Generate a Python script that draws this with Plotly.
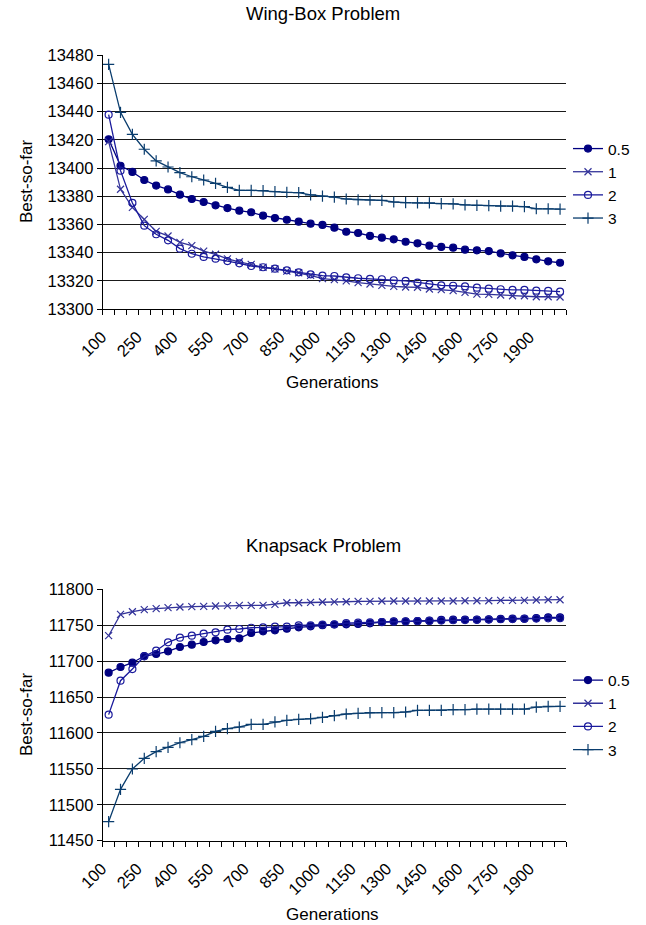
import plotly.graph_objects as go

# Generations (category axis, one point every 50 generations)
generations = [100, 150, 200, 250, 300, 350, 400, 450, 500, 550, 600, 650, 700,
               750, 800, 850, 900, 950, 1000, 1050, 1100, 1150, 1200, 1250, 1300,
               1350, 1400, 1450, 1500, 1550, 1600, 1650, 1700, 1750, 1800, 1850,
               1900, 1950, 2000]
tick_labels = [100, 250, 400, 550, 700, 850, 1000, 1150, 1300, 1450, 1600, 1750, 1900]
series_names = ["0.5", "1", "2", "3"]

# Wing-Box problem, best-so-far per generation
wing_05 = [13420.4, 13401.6, 13397.2, 13391.5, 13387.5, 13384.8, 13381.1, 13378.0,
           13375.9, 13373.5, 13371.6, 13369.7, 13368.6, 13366.2, 13364.5, 13363.3,
           13361.9, 13360.5, 13359.6, 13357.7, 13354.8, 13353.9, 13351.8, 13350.6,
           13349.4, 13347.7, 13346.6, 13344.9, 13344.0, 13343.5, 13342.1, 13341.6,
           13341.1, 13339.5, 13338.1, 13336.9, 13335.2, 13333.8, 13332.8]
wing_1 = [13418.7, 13384.9, 13372.1, 13363.6, 13355.0, 13351.8, 13347.3, 13344.9,
          13341.1, 13338.8, 13335.5, 13333.5, 13331.7, 13329.6, 13328.4, 13326.9,
          13325.7, 13323.9, 13321.5, 13320.8, 13319.9, 13318.7, 13317.7, 13316.8,
          13316.1, 13315.6, 13315.4, 13314.2, 13313.7, 13313.0, 13311.8, 13310.6,
          13310.4, 13309.9, 13309.4, 13309.4, 13308.7, 13308.7, 13308.5]
wing_2 = [13437.8, 13398.1, 13375.2, 13359.1, 13353.0, 13348.7, 13342.8, 13339.2,
          13336.9, 13335.7, 13334.0, 13332.4, 13330.5, 13329.6, 13328.6, 13327.4,
          13326.0, 13324.6, 13323.6, 13323.4, 13322.5, 13321.8, 13321.3, 13321.1,
          13320.4, 13319.9, 13318.7, 13317.5, 13316.8, 13316.5, 13316.1, 13315.1,
          13314.4, 13314.0, 13313.5, 13313.5, 13313.0, 13312.8, 13312.3]
wing_3 = [13473.5, 13439.5, 13423.9, 13413.3, 13405.0, 13400.7, 13396.7, 13393.8,
          13391.5, 13389.1, 13386.3, 13384.2, 13384.2, 13383.9, 13383.2, 13382.7,
          13382.5, 13380.9, 13380.1, 13379.4, 13378.0, 13377.5, 13377.3, 13377.1,
          13375.9, 13375.4, 13375.2, 13375.2, 13374.7, 13374.5, 13373.8, 13373.5,
          13373.3, 13373.0, 13373.0, 13372.6, 13371.1, 13371.1, 13370.9]

# Knapsack problem, best-so-far per generation
knap_05 = [11683.9, 11691.8, 11697.8, 11707.1, 11709.9, 11713.7, 11719.7, 11722.9,
           11726.6, 11729.0, 11730.8, 11731.8, 11739.2, 11741.5, 11742.9, 11745.1,
           11747.1, 11748.5, 11750.1, 11751.0, 11751.3, 11751.7, 11752.6, 11754.5,
           11755.4, 11755.4, 11755.9, 11756.3, 11757.3, 11757.7, 11757.7, 11757.7,
           11758.2, 11758.7, 11759.1, 11759.1, 11760.0, 11761.0, 11761.0]
knap_1 = [11735.4, 11765.2, 11768.8, 11771.6, 11773.0, 11774.4, 11775.3, 11775.8,
          11776.3, 11776.7, 11777.2, 11777.7, 11777.7, 11777.7, 11779.1, 11781.3,
          11781.3, 11781.9, 11782.3, 11782.5, 11782.7, 11783.2, 11783.2, 11783.7,
          11783.7, 11783.7, 11783.7, 11783.7, 11783.7, 11783.7, 11784.1, 11784.1,
          11784.1, 11784.6, 11784.6, 11784.6, 11785.1, 11785.5, 11785.5]
knap_2 = [11625.5, 11672.8, 11689.0, 11706.7, 11714.5, 11726.2, 11732.6, 11735.4,
          11738.2, 11740.1, 11743.8, 11744.7, 11746.5, 11747.1, 11747.9, 11747.9,
          11749.9, 11749.9, 11750.7, 11751.3, 11753.0, 11753.5, 11754.0, 11754.3,
          11754.8, 11755.2, 11755.6, 11756.0, 11756.5, 11756.9, 11757.2, 11757.5,
          11757.9, 11758.3, 11758.6, 11758.9, 11759.3, 11759.6, 11759.8]
knap_3 = [11476.5, 11521.5, 11549.8, 11564.7, 11573.9, 11580.0, 11586.4, 11590.6,
          11595.3, 11602.3, 11605.9, 11608.3, 11612.0, 11612.0, 11615.3, 11617.6,
          11619.0, 11619.8, 11621.8, 11624.0, 11626.4, 11627.4, 11628.2, 11628.2,
          11628.2, 11629.2, 11631.5, 11631.5, 11631.5, 11632.4, 11632.4, 11633.3,
          11633.3, 11633.3, 11633.3, 11633.3, 11636.1, 11637.1, 11637.1]

W, H = 646, 925
FONT = "Liberation Sans, Arial, Helvetica, sans-serif"

styles = {
    "0.5": dict(color="#000080", symbol="circle", size=7, lw=1.3),
    "1": dict(color="#33339a", symbol="x-thin-open", size=7, lw=1.3),
    "2": dict(color="#1a1a9c", symbol="circle-open", size=7, lw=1.3),
    "3": dict(color="#0a3d6e", symbol="cross-thin-open", size=8, lw=1.3),
}


def px_x(p):
    return p / W


def px_y(p):
    return 1 - p / H


fig = go.Figure()

panels = [
    ("x", "y", "legend", [wing_05, wing_1, wing_2, wing_3]),
    ("x2", "y2", "legend2", [knap_05, knap_1, knap_2, knap_3]),
]
for xa, ya, lg, data in panels:
    for name, vals in zip(series_names, data):
        st = styles[name]
        fig.add_trace(go.Scatter(
            x=generations, y=vals, name=name, mode="lines+markers",
            xaxis=xa, yaxis=ya, legend=lg,
            line=dict(color=st["color"], width=st["lw"]),
            marker=dict(symbol=st["symbol"], size=st["size"], color=st["color"],
                        line=dict(color=st["color"], width=1.2)),
        ))

x_dom = [px_x(102.7), px_x(566)]
common_x = dict(
    domain=x_dom, range=[75, 2025], tickmode="array", tickvals=tick_labels,
    ticktext=[str(t) for t in tick_labels], tickangle=-45,
    ticks="outside", ticklen=6, tickcolor="rgba(0,0,0,0)",
    ticklabelshift=-7, ticklabelstandoff=5,
    minor=dict(ticks="outside", tick0=75, dtick=50, ticklen=5,
               tickcolor="black", tickwidth=1, showgrid=False),
    showline=True, linecolor="black", linewidth=1, showgrid=False,
    zeroline=False, automargin=False,
    tickfont=dict(family=FONT, size=16.5, color="black"),
)
common_y = dict(
    ticks="outside", ticklen=5, tickcolor="black", tickwidth=1,
    showline=True, linecolor="black", linewidth=1, tickformat="d",
    showgrid=True, gridcolor="#1a1a1a", gridwidth=1, zeroline=False,
    automargin=False,
    tickfont=dict(family=FONT, size=16.5, color="black"),
)

legend_common = dict(xanchor="left", yanchor="middle",
                     font=dict(family=FONT, size=15.5, color="black"),
                     bgcolor="rgba(0,0,0,0)", itemwidth=30, tracegroupgap=0)

fig.update_layout(
    width=W, height=H, margin=dict(l=0, r=0, t=0, b=0),
    paper_bgcolor="white", plot_bgcolor="white",
    font=dict(family=FONT, size=15, color="black"),
    xaxis=dict(common_x, anchor="y"),
    xaxis2=dict(common_x, anchor="y2"),
    yaxis=dict(common_y, anchor="x", domain=[px_y(309), px_y(55.2)],
               range=[13300, 13480], dtick=20, tick0=13300),
    yaxis2=dict(common_y, anchor="x2", domain=[px_y(840.7), px_y(589.3)],
                range=[11450, 11800], dtick=50, tick0=11450),
    legend=dict(legend_common, x=px_x(568), y=px_y(183.5)),
    legend2=dict(legend_common, x=px_x(568), y=px_y(715)),
    showlegend=True,
)

annos = [
    ("Wing-Box Problem", 323, 14, 0, 18.5),
    ("Generations", 332, 382, 0, 17),
    ("Best-so-far", 26, 182, -90, 17),
    ("Knapsack Problem", 323, 545, 0, 18.5),
    ("Generations", 332, 914, 0, 17),
    ("Best-so-far", 26, 715, -90, 17),
]
for text, ax, ay, ang, fs in annos:
    fig.add_annotation(text=text, x=px_x(ax), y=px_y(ay), xref="paper", yref="paper",
                       xanchor="center", yanchor="middle", showarrow=False,
                       textangle=ang, font=dict(family=FONT, size=fs, color="black"))

fig.write_html("out.html")
